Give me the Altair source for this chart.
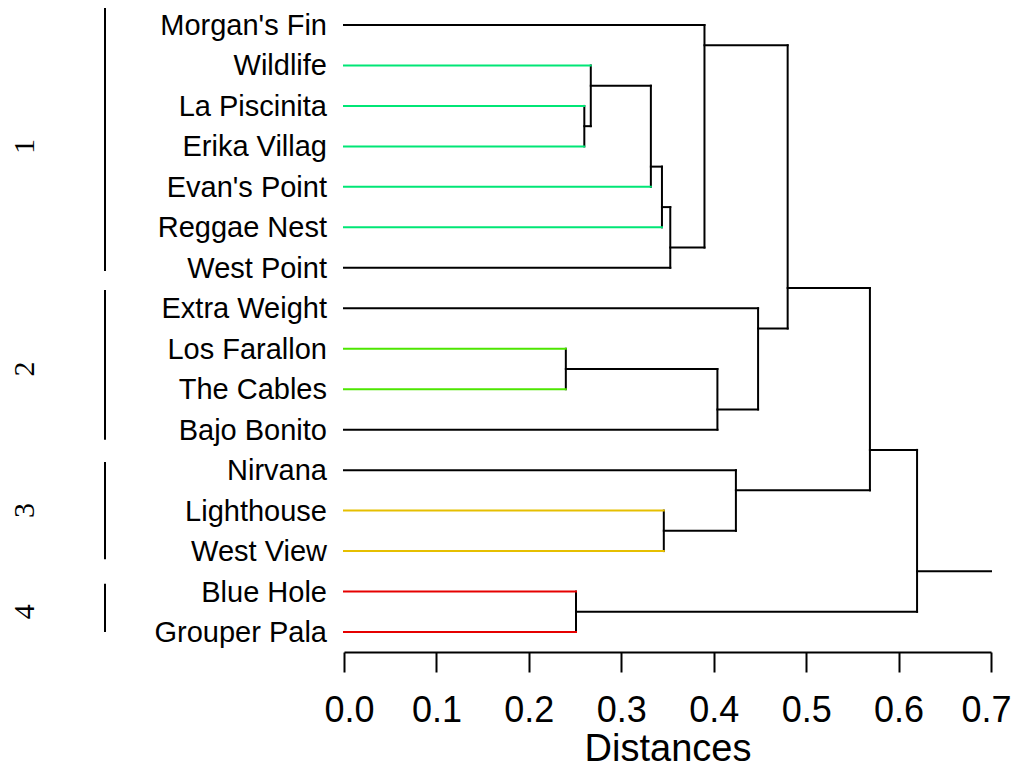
import altair as alt
import pandas as pd

# ---------------- data ----------------
leaves = ["Morgan's Fin", "Wildlife", "La Piscinita", "Erika Villag", "Evan's Point",
          "Reggae Nest", "West Point", "Extra Weight", "Los Farallon", "The Cables",
          "Bajo Bonito", "Nirvana", "Lighthouse", "West View", "Blue Hole", "Grouper Pala"]
leaf_colors = ["#000000", "#00E676", "#00E676", "#00E676", "#00E676", "#00E676", "#000000",
               "#000000", "#4DE600", "#4DE600", "#000000",
               "#000000", "#E6BF00", "#E6BF00",
               "#E60000", "#E60000"]
# R-style merge matrix: negative = leaf (1-based), positive = earlier merge (1-based)
merge_left = [-3, -9, -15, -2, 4, 5, -13, 6, -1, 2, -12, -8, 9, 13, 14]
merge_right = [-4, -10, -16, 1, -5, -6, -14, -7, 8, -11, 7, 10, 12, 11, 3]
merge_height = [0.260, 0.240, 0.251, 0.267, 0.332, 0.344, 0.346, 0.353, 0.390,
                0.404, 0.424, 0.448, 0.480, 0.569, 0.620]
axis_max = 0.7
tick_values = [0.0, 0.1, 0.2, 0.3, 0.4, 0.5, 0.6, 0.7]

group_names = ["1", "2", "3", "4"]
group_first = [1, 8, 12, 15]
group_last = [7, 11, 14, 16]
group_start = [0.58, 7.55, 11.8, 14.81]
group_end = [7.08, 11.25, 14.2, 16.0]

# ---------------- build dendrogram segments ----------------
node_max_leaf = {}
node_y = {}
node_x = {}


def max_leaf(c):
    return -c if c < 0 else node_max_leaf[c]


def ypos(c):
    return float(-c) if c < 0 else node_y[c]


def xpos(c):
    return 0.0 if c < 0 else node_x[c]


segs = []
for i, (l, r, h) in enumerate(zip(merge_left, merge_right, merge_height), start=1):
    y_here = max_leaf(l) + 0.5
    segs.append(dict(x=h, x2=h, y=ypos(l), y2=ypos(r), color="#000000"))
    for c in (l, r):
        col = leaf_colors[-c - 1] if c < 0 else "#000000"
        segs.append(dict(x=xpos(c), x2=h, y=ypos(c), y2=ypos(c), color=col))
    node_max_leaf[i] = max(max_leaf(l), max_leaf(r))
    node_y[i] = y_here
    node_x[i] = h

root = len(merge_height)
segs.append(dict(x=node_x[root], x2=axis_max, y=node_y[root], y2=node_y[root], color="#000000"))
seg_df = pd.DataFrame(segs)

leaf_df = pd.DataFrame({"name": leaves, "pos": list(range(1, len(leaves) + 1))})
grp_df = pd.DataFrame({"g": group_names, "s": group_start, "e": group_end,
                       "f": group_first, "l": group_last})
grp_df["m"] = (grp_df["f"] + grp_df["l"]) / 2

xscale = alt.Scale(domain=[0, axis_max], nice=False, zero=False)
yscale = alt.Scale(domain=[0.58, 16.494], reverse=True, nice=False, zero=False)

xaxis = alt.Axis(values=tick_values, format=".1f", grid=False,
                 domainColor="black", domainWidth=2, tickColor="black", tickWidth=2,
                 tickSize=20, labelFontSize=36, labelFont="Liberation Sans",
                 labelColor="black", labelPadding=21,
                 labelFlush=True, labelFlushOffset=20,
                 title="Distances", titleFontSize=38, titleFont="Liberation Sans",
                 titleFontWeight="normal", titleColor="black",
                 titleY=108, titleBaseline="alphabetic")

segments = alt.Chart(seg_df).mark_rule(strokeWidth=2, strokeCap="square").encode(
    x=alt.X("x:Q", scale=xscale, axis=xaxis),
    x2="x2:Q",
    y=alt.Y("y:Q", scale=yscale, axis=None),
    y2="y2:Q",
    color=alt.Color("color:N", scale=None),
)

labels = alt.Chart(leaf_df).mark_text(
    align="right", baseline="middle", fontSize=29, font="Liberation Sans", color="black", dy=1
).encode(
    x=alt.value(-17),
    y=alt.Y("pos:Q", scale=yscale, axis=None),
    text="name:N",
)

grp_lines = alt.Chart(grp_df).mark_rule(strokeWidth=2, color="black").encode(
    x=alt.value(-239),
    y=alt.Y("s:Q", scale=yscale, axis=None),
    y2="e:Q",
)

grp_labels = alt.Chart(grp_df).mark_text(
    align="center", baseline="middle", fontSize=30, font="Liberation Serif",
    color="black", angle=270
).encode(
    x=alt.value(-319),
    y=alt.Y("m:Q", scale=yscale, axis=None),
    text="g:N",
)

chart = alt.layer(segments, labels, grp_lines, grp_labels).properties(
    width=647, height=644,
    background="white",
    autosize=alt.AutoSizeParams(type="none"),
    padding={"left": 336, "top": 0, "right": 20, "bottom": 116},
).configure_view(strokeWidth=0, stroke=None)

chart.save("out.html", embed_options={"renderer": "svg", "actions": False})
